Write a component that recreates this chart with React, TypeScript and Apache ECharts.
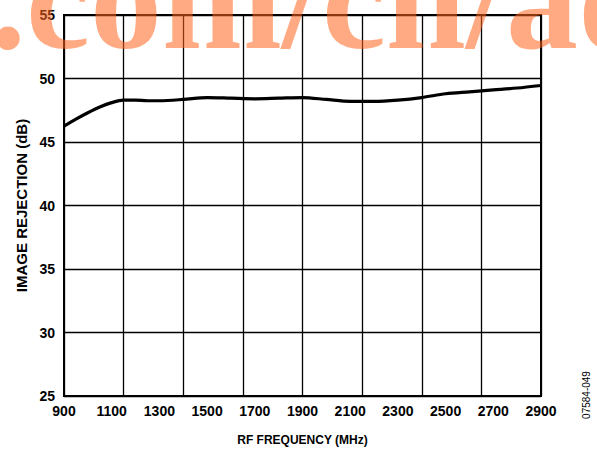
import React, { useEffect, useRef } from "react";
import * as echarts from "echarts";

const freqMHz = [900, 950, 1000, 1050, 1100, 1150, 1200, 1250, 1300, 1400, 1500, 1600, 1700, 1800, 1900, 2000, 2100, 2200, 2300, 2400, 2500, 2600, 2700, 2800, 2900];
const rejectionDb = [46.25, 46.8, 47.3, 47.75, 48.1, 48.3, 48.3, 48.25, 48.25, 48.35, 48.5, 48.45, 48.4, 48.45, 48.5, 48.35, 48.2, 48.2, 48.3, 48.5, 48.8, 48.95, 49.1, 49.25, 49.45];
const xTickLabels = ["900", "1100", "1300", "1500", "1700", "1900", "2100", "2300", "2500", "2700", "2900"];
const xGridDivisions = 8;
const watermark = ".com/cn/ad";
const figureCode = "07584-049";

export default function App() {
  const ref = useRef<HTMLDivElement>(null);
  useEffect(() => {
    if (!ref.current) return;
    const chart = echarts.init(ref.current, null, { renderer: "svg" });
    const labelFont = { fontFamily: "Liberation Sans", fontWeight: "bold" as const, fontSize: 14, color: "#000" };
    chart.setOption({
      animation: false,
      backgroundColor: "#fff",
      grid: { left: 64, right: 56, top: 15, bottom: 54, show: true, borderColor: "#000", borderWidth: 2, backgroundColor: "transparent" },
      xAxis: [
        {
          type: "value", min: 900, max: 2900,
          axisLine: { show: false }, axisTick: { show: false }, axisLabel: { show: false }, splitLine: { show: false },
          name: "RF FREQUENCY (MHz)", nameLocation: "middle", nameGap: 38,
          nameTextStyle: { fontFamily: "Liberation Sans", fontWeight: "bold", fontSize: 12, color: "#000" },
        },
        {
          type: "value", min: 0, max: xTickLabels.length - 1, interval: 1, position: "bottom",
          axisLine: { show: false }, axisTick: { show: false }, splitLine: { show: false },
          axisLabel: { ...labelFont, margin: 8, formatter: (v: number) => xTickLabels[Math.round(v)] ?? "" },
        },
        {
          type: "value", min: 0, max: xGridDivisions, interval: 1, position: "top",
          axisLine: { show: false }, axisTick: { show: false }, axisLabel: { show: false },
          splitLine: { show: true, lineStyle: { color: "#000", width: 1.3 } },
        },
      ],
      yAxis: {
        type: "value", min: 25, max: 55, interval: 5,
        axisLine: { show: false }, axisTick: { show: false },
        axisLabel: { ...labelFont, margin: 9 },
        splitLine: { show: true, lineStyle: { color: "#000", width: 1.3 } },
        name: "IMAGE REJECTION (dB)", nameLocation: "middle", nameGap: 34,
        nameTextStyle: { fontFamily: "Liberation Sans", fontWeight: "bold", fontSize: 15, color: "#000" },
      },
      series: [
        {
          type: "line", xAxisIndex: 0, data: freqMHz.map((f, i) => [f, rejectionDb[i]]),
          smooth: 0.3, showSymbol: false, symbol: "none",
          lineStyle: { color: "#000", width: 3.2 },
        },
      ],
      graphic: [
        {
          type: "text", x: -10, y: 71, z: 100,
          style: { text: watermark, font: 'bold 144px "Liberation Serif"', fill: "rgba(255,100,30,0.55)", verticalAlign: "bottom" },
        },
        {
          type: "text", x: 586, y: 395, rotation: Math.PI / 2, z: 100,
          style: { text: figureCode, font: '10px "Liberation Sans"', fill: "#000", align: "center", verticalAlign: "middle" },
        },
      ],
    });
    return () => chart.dispose();
  }, []);
  return <div ref={ref} style={{ width: 597, height: 451, position: "absolute", left: 0, top: 0 }} />;
}
